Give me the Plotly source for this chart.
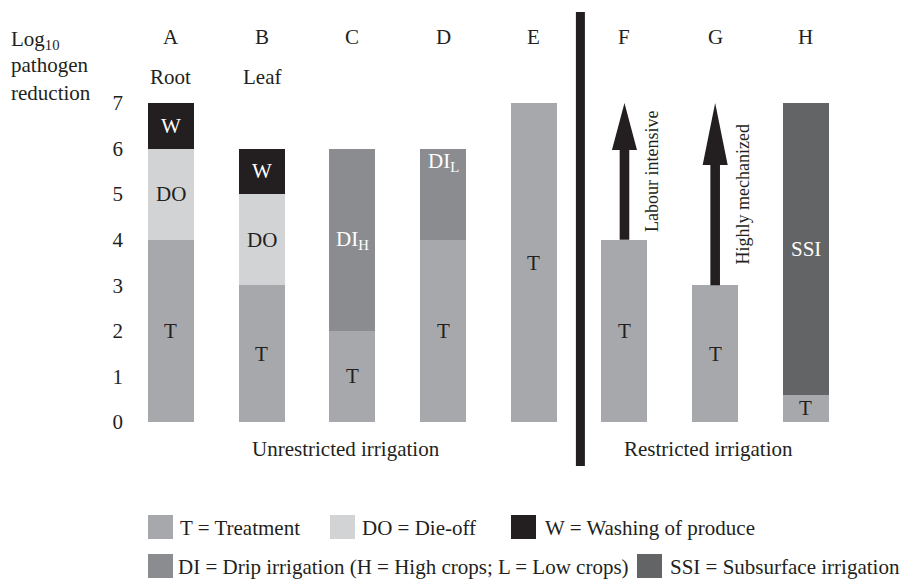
import plotly.graph_objects as go

# ---- data ----
columns = ["A", "B", "C", "D", "E", "F", "G", "H"]
crop_notes = ["Root", "Leaf", "", "", "", "", "", ""]
treatment = [4, 3, 2, 4, 7, 4, 3, 0.6]
die_off = [2, 2, None, None, None, None, None, None]
drip = [None, None, 4, 2, None, None, None, None]
subsurface = [None, None, None, None, None, None, None, 6.4]
washing = [1, 1, None, None, None, None, None, None]
drip_labels = ["", "", "DI<sub>H</sub>", "DI<sub>L</sub>", "", "", "", ""]
arrow_target = 7
arrow_cols = ["F", "G"]
arrow_texts = ["Labour intensive", "Highly mechanized"]
y_ticks = [0, 1, 2, 3, 4, 5, 6, 7]
group_labels = ["Unrestricted irrigation", "Restricted irrigation"]

legend_items = [
    ("T = Treatment", "T"),
    ("DO = Die-off", "DO"),
    ("W = Washing of produce", "W"),
    ("DI = Drip irrigation (H = High crops; L = Low crops)", "DI"),
    ("SSI = Subsurface irrigation", "SSI"),
]

# ---- style ----
FONT = "Liberation Serif"
COL = {"T": "#a7a8ab", "DO": "#d1d3d4", "W": "#231f20", "DI": "#8b8c8f", "SSI": "#636466"}
TXT = {"T": "#231f20", "DO": "#231f20", "W": "white", "DI": "white", "SSI": "white"}
W, H = 905, 579
ML = 130
BAR_W = 0.507
X0, X1 = -0.452, 8.093
Y_TOP, Y_BOT = 9.26, -3.445

xs = list(range(len(columns)))


def px_to_paper_x(px):
    return (px - ML) / (W - ML)


def px_to_paper_y(py):
    return 1 - py / H


def py_to_data(py):
    return Y_TOP - py / H * (Y_TOP - Y_BOT)


fig = go.Figure()
series = [("T", treatment), ("DO", die_off), ("DI", drip), ("SSI", subsurface), ("W", washing)]
for key, vals in series:
    fig.add_trace(go.Bar(x=xs, y=vals, width=BAR_W, marker=dict(color=COL[key], line=dict(width=0)),
                         showlegend=False, hoverinfo="skip"))

annotations = []
shapes = []

# segment labels
base = [0.0] * len(xs)
for key, vals in series:
    for i, v in enumerate(vals):
        if v is None:
            continue
        lo, hi = base[i], base[i] + v
        base[i] = hi
        label = drip_labels[i] if key == "DI" else key
        yc = (lo + hi) / 2
        if label == "DI<sub>L</sub>":
            yc = hi - 0.3
        annotations.append(dict(x=xs[i], y=yc, xref="x", yref="y", text=label, showarrow=False,
                                font=dict(family=FONT, size=21, color=TXT[key])))

# column letters and crop notes
for i, c in enumerate(columns):
    annotations.append(dict(x=xs[i], y=py_to_data(37), xref="x", yref="y", text=c, showarrow=False,
                            font=dict(family=FONT, size=21, color="#231f20")))
    if crop_notes[i]:
        annotations.append(dict(x=xs[i], y=py_to_data(77), xref="x", yref="y", text=crop_notes[i],
                                showarrow=False, font=dict(family=FONT, size=21, color="#231f20")))

# y-axis title
for txt, py in [("Log<sub>10</sub>", 40), ("pathogen", 65), ("reduction", 93)]:
    annotations.append(dict(x=px_to_paper_x(9), y=px_to_paper_y(py), xref="paper", yref="paper",
                            text=txt, showarrow=False, xanchor="left", yanchor="middle",
                            font=dict(family=FONT, size=21, color="#231f20")))

# arrows
head_len = {"F": 1.03, "G": 1.36}
shaft_half = 0.053
head_half = 0.138
for col, label in zip(arrow_cols, arrow_texts):
    i = columns.index(col)
    x = xs[i]
    y0 = treatment[i]
    yh = arrow_target - head_len[col]
    shapes.append(dict(type="rect", xref="x", yref="y", x0=x - shaft_half, x1=x + shaft_half,
                       y0=y0, y1=yh + 0.02, fillcolor="#231f20", line=dict(width=0), layer="above"))
    shapes.append(dict(type="path", xref="x", yref="y",
                       path=f"M {x - head_half} {yh} L {x + head_half} {yh} L {x} {arrow_target} Z",
                       fillcolor="#231f20", line=dict(width=0), layer="above"))
    annotations.append(dict(x=x + 0.31, y=(y0 + arrow_target) / 2, xref="x", yref="y",
                            text=label, textangle=-90, showarrow=False,
                            font=dict(family=FONT, size=18, color="#231f20")))

# separator line between unrestricted and restricted
sep_x = (xs[4] + xs[5]) / 2 + 0.014
shapes.append(dict(type="line", xref="x", yref="y", x0=sep_x, x1=sep_x,
                   y0=py_to_data(466), y1=py_to_data(12), line=dict(color="#231f20", width=9)))

# group labels
for txt, xc in zip(group_labels, [1.93, 5.93]):
    annotations.append(dict(x=xc, y=py_to_data(449), xref="x", yref="y", text=txt, showarrow=False,
                            font=dict(family=FONT, size=21, color="#231f20")))

# legend (manual)
legend_pos = [(148, 515, 180), (330, 515, 362), (511, 515, 545), (148, 554, 178), (637, 554, 670)]
for (txt, key), (sx, sy, tx) in zip(legend_items, legend_pos):
    shapes.append(dict(type="rect", xref="paper", yref="paper",
                       x0=px_to_paper_x(sx), x1=px_to_paper_x(sx + 25),
                       y0=px_to_paper_y(sy + 24), y1=px_to_paper_y(sy),
                       fillcolor=COL[key], line=dict(width=0)))
    annotations.append(dict(x=px_to_paper_x(tx - 2), y=px_to_paper_y(sy + 13), xref="paper", yref="paper",
                            text=txt, showarrow=False, xanchor="left", yanchor="middle",
                            font=dict(family=FONT, size=21, color="#231f20")))

fig.update_layout(
    width=W, height=H,
    margin=dict(l=ML, r=0, t=0, b=0),
    paper_bgcolor="white", plot_bgcolor="white",
    barmode="stack",
    xaxis=dict(range=[X0, X1], visible=False, fixedrange=True),
    yaxis=dict(range=[Y_BOT, Y_TOP], tickvals=y_ticks, ticktext=[str(v) for v in y_ticks],
               showgrid=False, zeroline=False, showline=False, ticks="", ticklabelstandoff=6,
               tickfont=dict(family=FONT, size=21, color="#231f20"), fixedrange=True),
    annotations=annotations,
    shapes=shapes,
    showlegend=False,
)

fig.write_html("out.html", config={"displayModeBar": False},
               post_script="document.body.style.margin='0';document.body.style.padding='0';document.body.style.overflow='hidden';")
